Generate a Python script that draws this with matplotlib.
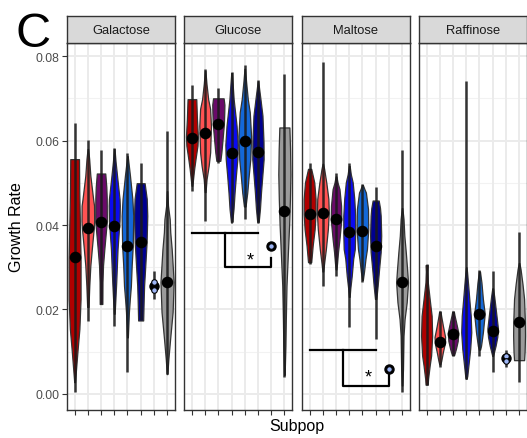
import matplotlib
matplotlib.use("Agg")
import matplotlib.pyplot as plt
import numpy as np

plt.rcParams['font.family'] = ['Liberation Sans', 'DejaVu Sans']

# ---------------- data ----------------
panels = ["Galactose", "Glucose", "Maltose", "Raffinose"]
subpops = ["S1", "S2", "S3", "S4", "S5", "S6", "S7", "S8"]
colors = ["#B00000", "#FF5252", "#6A0A6A", "#0A0AF0", "#1468D8", "#00008F", "#9DB5F5", "#9A9A9A"]

# median dots (None = not drawn)
galactose_medians = [0.0324, 0.0393, 0.0406, 0.0398, 0.0351, 0.0360, 0.0256, 0.0266]
glucose_medians   = [0.0607, 0.0618, 0.0639, 0.0570, 0.0599, 0.0574, 0.0350, 0.0434]
maltose_medians   = [0.0426, 0.0428, 0.0414, 0.0383, 0.0387, 0.0350, 0.0059, 0.0264]
raffinose_medians = [None, 0.0124, 0.0142, None, 0.0189, 0.0150, 0.0084, 0.0171]

# vertical range lines (low, high)
galactose_ranges = [(0.0005, 0.0641), (0.0173, 0.0601), (0.0213, 0.0578), (0.0162, 0.0582),
                    (0.0052, 0.0570), (0.0174, 0.0546), (0.0225, 0.0290), (0.0047, 0.0622)]
glucose_ranges   = [(0.0481, 0.0731), (0.0410, 0.0769), (0.0548, 0.0724), (0.0406, 0.0763),
                    (0.0414, 0.0779), (0.0406, 0.0744), None, (0.0039, 0.0757)]
maltose_ranges   = [(0.0308, 0.0547), (0.0256, 0.0786), (0.0280, 0.0523), (0.0158, 0.0548),
                    (0.0264, 0.0497), (0.0130, 0.0489), None, (0.0004, 0.0578)]
raffinose_ranges = [(0.0022, 0.0308), (0.0063, 0.0197), (0.0091, 0.0197), (0.0036, 0.0742),
                    (0.0091, 0.0294), (0.0051, 0.0292), (0.0063, 0.0103), (0.0028, 0.0384)]

# single observations of subpop 7 (light blue points)
galactose_points = [0.0266, 0.0247]
glucose_points   = [0.0350]
maltose_points   = [0.0059]
raffinose_points = [0.0089, 0.0078]

# violin outlines: (value, half width in category units)
galactose_violins = [
    [(0.0556, 0.33), (0.048, 0.35), (0.040, 0.40), (0.032, 0.45), (0.0225, 0.45), (0.0154, 0.36), (0.0107, 0.23), (0.006, 0.11), (0.0028, 0.03)],
    [(0.058, 0.02), (0.0557, 0.10), (0.0517, 0.19), (0.0462, 0.40), (0.0446, 0.47), (0.041, 0.48), (0.0393, 0.45), (0.0343, 0.30), (0.0304, 0.19), (0.0256, 0.11), (0.0206, 0.05)],
    [(0.0522, 0.32), (0.049, 0.40), (0.0464, 0.43), (0.041, 0.44), (0.0343, 0.25), (0.0304, 0.15), (0.0265, 0.11), (0.0213, 0.10)],
    [(0.058, 0.02), (0.055, 0.10), (0.0517, 0.21), (0.0462, 0.40), (0.0446, 0.42), (0.041, 0.40), (0.0343, 0.25), (0.0265, 0.15), (0.022, 0.08), (0.019, 0.03)],
    [(0.0563, 0.02), (0.0517, 0.19), (0.0462, 0.37), (0.0422, 0.44), (0.035, 0.40), (0.0304, 0.32), (0.0256, 0.26), (0.0225, 0.18), (0.0194, 0.11), (0.0134, 0.03)],
    [(0.0499, 0.30), (0.0462, 0.46), (0.0422, 0.50), (0.036, 0.45), (0.0304, 0.35), (0.0256, 0.26), (0.0225, 0.23), (0.0174, 0.19)],
    None,
    [(0.048, 0.02), (0.0446, 0.07), (0.0414, 0.20), (0.0383, 0.24), (0.0343, 0.35), (0.0265, 0.50), (0.0194, 0.42), (0.013, 0.23), (0.0083, 0.10), (0.0047, 0.02)],
]
glucose_violins = [
    [(0.0698, 0.33), (0.0651, 0.38), (0.061, 0.45), (0.0588, 0.42), (0.0556, 0.27), (0.0533, 0.17), (0.0493, 0.03)],
    [(0.0765, 0.02), (0.0735, 0.10), (0.0698, 0.23), (0.0675, 0.38), (0.0635, 0.44), (0.0572, 0.38), (0.0541, 0.27), (0.0509, 0.11), (0.0478, 0.03)],
    [(0.0700, 0.40), (0.0685, 0.46), (0.0667, 0.45), (0.0639, 0.42), (0.0596, 0.30), (0.0572, 0.23), (0.0552, 0.15)],
    [(0.0760, 0.02), (0.0735, 0.08), (0.0698, 0.16), (0.0635, 0.38), (0.0590, 0.47), (0.0556, 0.44), (0.0517, 0.33), (0.0477, 0.23), (0.0438, 0.15), (0.0406, 0.04)],
    [(0.0770, 0.02), (0.0740, 0.10), (0.0698, 0.23), (0.0667, 0.38), (0.0610, 0.48), (0.0556, 0.42), (0.0517, 0.30), (0.0477, 0.19), (0.0444, 0.06)],
    [(0.0740, 0.02), (0.0720, 0.10), (0.0698, 0.19), (0.0659, 0.34), (0.0596, 0.42), (0.0556, 0.43), (0.0517, 0.33), (0.0477, 0.23), (0.0438, 0.15), (0.0406, 0.05)],
    None,
    [(0.0631, 0.38), (0.058, 0.43), (0.052, 0.46), (0.046, 0.42), (0.040, 0.36), (0.0336, 0.27), (0.0256, 0.16), (0.0177, 0.11), (0.0114, 0.08), (0.0045, 0.02)],
]
maltose_violins = [
    [(0.0533, 0.12), (0.0501, 0.35), (0.0462, 0.45), (0.0426, 0.45), (0.039, 0.38), (0.0351, 0.23), (0.0312, 0.12)],
    [(0.0545, 0.02), (0.0533, 0.10), (0.0501, 0.26), (0.0462, 0.42), (0.043, 0.45), (0.039, 0.38), (0.0343, 0.23), (0.031, 0.10), (0.029, 0.03)],
    [(0.0515, 0.03), (0.0500, 0.12), (0.0485, 0.26), (0.0446, 0.38), (0.0414, 0.40), (0.0367, 0.26), (0.0336, 0.15), (0.031, 0.08), (0.0295, 0.03)],
    [(0.054, 0.03), (0.052, 0.12), (0.0501, 0.26), (0.0462, 0.38), (0.0422, 0.45), (0.038, 0.45), (0.0343, 0.42), (0.032, 0.30), (0.028, 0.19), (0.025, 0.08), (0.023, 0.03)],
    [(0.0495, 0.03), (0.0485, 0.15), (0.0477, 0.26), (0.0438, 0.42), (0.039, 0.44), (0.0343, 0.34), (0.032, 0.23), (0.029, 0.12), (0.027, 0.03)],
    [(0.0458, 0.23), (0.0440, 0.33), (0.0422, 0.38), (0.0375, 0.42), (0.0336, 0.38), (0.0296, 0.26), (0.0256, 0.15), (0.0225, 0.05)],
    None,
    [(0.0440, 0.02), (0.0414, 0.11), (0.0375, 0.17), (0.0336, 0.28), (0.0296, 0.38), (0.0264, 0.45), (0.0217, 0.35), (0.0177, 0.19), (0.0138, 0.11), (0.0059, 0.07), (0.002, 0.02)],
]
raffinose_violins = [
    [(0.0305, 0.08), (0.029, 0.06), (0.0264, 0.09), (0.0225, 0.23), (0.0185, 0.38), (0.0138, 0.42), (0.0091, 0.34), (0.0067, 0.23), (0.0036, 0.11), (0.0022, 0.08)],
    [(0.0195, 0.05), (0.0185, 0.10), (0.0162, 0.23), (0.0135, 0.40), (0.012, 0.38), (0.0099, 0.23), (0.0079, 0.11), (0.007, 0.04)],
    [(0.0195, 0.06), (0.0185, 0.12), (0.017, 0.23), (0.0145, 0.40), (0.0125, 0.35), (0.0107, 0.22), (0.0092, 0.08)],
    [(0.030, 0.02), (0.0289, 0.06), (0.026, 0.14), (0.0225, 0.23), (0.0185, 0.34), (0.0146, 0.38), (0.0107, 0.30), (0.0075, 0.19), (0.0043, 0.08), (0.0036, 0.03)],
    [(0.029, 0.04), (0.0264, 0.15), (0.0225, 0.26), (0.019, 0.40), (0.0146, 0.26), (0.0114, 0.12), (0.0105, 0.05)],
    [(0.025, 0.03), (0.023, 0.12), (0.0201, 0.23), (0.0155, 0.40), (0.0135, 0.35), (0.0114, 0.22), (0.0099, 0.10), (0.009, 0.03)],
    None,
    [(0.031, 0.02), (0.0296, 0.11), (0.026, 0.26), (0.0225, 0.38), (0.017, 0.44), (0.0138, 0.45), (0.0100, 0.42), (0.0080, 0.38)],
]

# significance brackets: (bar level, drop level, end level under point, star position)
glucose_bracket = dict(top=0.0381, bottom=0.0300, end=0.0323, star_x=5.45, star_y=0.0318)
maltose_bracket = dict(top=0.0103, bottom=0.0020, end=0.0051, star_x=5.45, star_y=0.0040)

y_ticks = [0.00, 0.02, 0.04, 0.06, 0.08]
y_tick_labels = ["0.00", "0.02", "0.04", "0.06", "0.08"]
y_minor = [0.01, 0.03, 0.05, 0.07]

all_medians = [galactose_medians, glucose_medians, maltose_medians, raffinose_medians]
all_ranges = [galactose_ranges, glucose_ranges, maltose_ranges, raffinose_ranges]
all_points = [galactose_points, glucose_points, maltose_points, raffinose_points]
all_violins = [galactose_violins, glucose_violins, maltose_violins, raffinose_violins]
all_brackets = [None, glucose_bracket, maltose_bracket, None]

# ---------------- figure ----------------
W, H = 527, 439
fig = plt.figure(figsize=(W / 100, H / 100), dpi=100)

panel_lefts = [66.7, 184.0, 301.7, 418.7]
panel_w = 108.3
panel_top, panel_bot = 44, 411
strip_top = 17

edge = "#333333"
grid_c = "#EBEBEB"

for p, name in enumerate(panels):
    l = panel_lefts[p]
    ax = fig.add_axes([l / W, 1 - panel_bot / H, panel_w / W, (panel_bot - panel_top) / H])
    ax.set_xlim(0.4, 8.6)
    ax.set_ylim(-0.0038, 0.0831)
    ax.set_facecolor("white")
    for yv in y_minor:
        ax.axhline(yv, color="#F2F2F2", lw=0.8, zorder=0)
    for yv in y_ticks:
        ax.axhline(yv, color=grid_c, lw=1.4, zorder=0)
    for i in range(len(subpops)):
        ax.axvline(i + 1, color=grid_c, lw=1.4, zorder=0)

    xs = np.arange(1, len(subpops) + 1)
    for i, x in enumerate(xs):
        prof = all_violins[p][i]
        if prof is not None:
            vy = np.array([a for a, b in prof])
            hw = np.array([b for a, b in prof])
            ax.fill_betweenx(vy, x - hw, x + hw, facecolor=colors[i], edgecolor=edge,
                             lw=0.9, zorder=2)
        rng = all_ranges[p][i]
        if rng is not None:
            ax.plot([x, x], rng, color="#1A1A1A", lw=1.8, alpha=0.88, zorder=3,
                    solid_capstyle="butt")
        med = all_medians[p][i]
        if med is not None:
            ax.plot([x], [med], "o", color="black", ms=7.3 if i != 6 else 6.5,
                    zorder=4)
    # light blue points of subpop 7
    pts = all_points[p]
    ax.plot([7] * len(pts), pts, "o", color=colors[6], mec="black", mew=0.8, ms=4.0, zorder=5)

    br = all_brackets[p]
    if br is not None:
        mid = (1 + 6) / 2
        kw = dict(color="black", lw=1.6, zorder=3, solid_capstyle="projecting")
        ax.plot([1, 6], [br["top"], br["top"]], **kw)
        ax.plot([mid, mid, 7, 7], [br["top"], br["bottom"], br["bottom"], br["end"]], **kw)
        ax.text(br["star_x"], br["star_y"], "*", ha="center", va="center", fontsize=13,
                color="black", zorder=5)

    ax.set_xticks(xs)
    ax.set_xticklabels([])
    ax.tick_params(axis="x", length=3.5, width=0.8, color=edge)
    ax.set_yticks(y_ticks)
    if p == 0:
        ax.set_yticklabels(y_tick_labels, fontsize=8.8, color="#4D4D4D")
        ax.tick_params(axis="y", length=3.5, width=0.8, color=edge, pad=1.5)
    else:
        ax.set_yticklabels([])
        ax.tick_params(axis="y", length=0)
    for s in ax.spines.values():
        s.set_color(edge)
        s.set_linewidth(1.0)
    ax.set_axisbelow(True)

    # strip
    sax = fig.add_axes([l / W, 1 - panel_top / H, panel_w / W, (panel_top - strip_top) / H])
    sax.set_facecolor("#D9D9D9")
    sax.set_xticks([])
    sax.set_yticks([])
    for s in sax.spines.values():
        s.set_color(edge)
        s.set_linewidth(1.0)
    sax.text(0.5, 0.47, name, ha="center", va="center", fontsize=9.3, color="#1A1A1A",
             transform=sax.transAxes)

fig.text(296.9 / W, 1 - 427 / H, "Subpop", ha="center", va="center", fontsize=11.5)
fig.text(17 / W, 1 - 227.5 / H, "Growth Rate", ha="center", va="center", fontsize=11.5,
         rotation=90)
fig.text(15 / W, 1 - 47 / H, "C", ha="left", va="baseline", fontsize=35)

fig.savefig("out.png", dpi=100)
